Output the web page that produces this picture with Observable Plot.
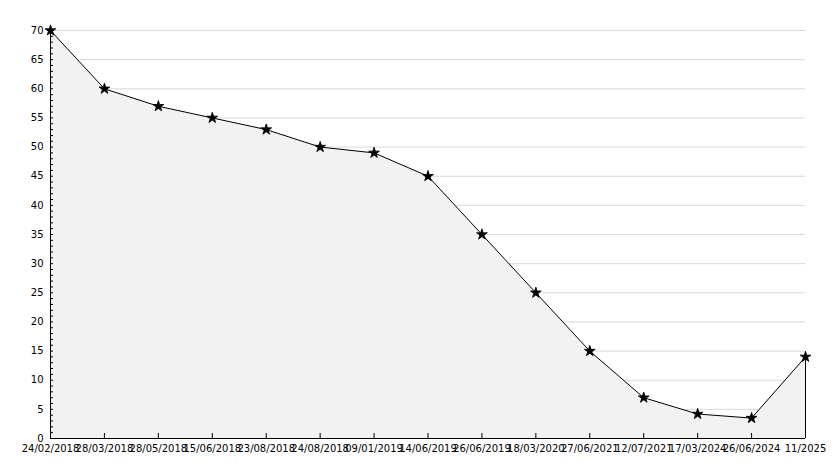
<!DOCTYPE html>
<html>
<head>
<meta charset="utf-8">
<script src="https://cdn.jsdelivr.net/npm/d3@7"></script>
<script src="https://cdn.jsdelivr.net/npm/@observablehq/plot@0.6"></script>
<style>
  html, body { margin: 0; padding: 0; background: #fff; }
  svg { display: block; }
</style>
</head>
<body>
<div id="chart"></div>
<script>
const dates = ["24/02/2018","28/03/2018","28/05/2018","15/06/2018","23/08/2018","24/08/2018","09/01/2019","14/06/2019","26/06/2019","18/03/2020","27/06/2021","12/07/2021","17/03/2024","26/06/2024","11/2025"];
const values = [70, 60, 57, 55, 53, 50, 49, 45, 35, 25, 15, 7, 4.2, 3.5, 14];
const majorTicks = d3.range(0, 71, 5);
const minorTicks = d3.range(0, 71, 1);

const data = dates.map((d, i) => ({date: d, value: values[i]}));

const chart = Plot.plot({
  width: 834,
  height: 468,
  marginLeft: 50,
  marginRight: 29,
  marginTop: 30,
  marginBottom: 30,
  style: {fontFamily: "DejaVu Sans", fontSize: "10px", color: "#000", background: "#fff"},
  x: {type: "point", domain: dates, padding: 0, round: false, range: [50, 805], label: null},
  y: {domain: [0, 70], range: [438, 30], label: null},
  marks: [
    Plot.gridY(majorTicks, {stroke: "#d8d8d8", strokeOpacity: 1}),
    Plot.areaY(data, {x: "date", y: "value", fill: "#f2f2f2"}),
    Plot.lineY(data, {x: "date", y: "value", stroke: "#000", strokeWidth: 1}),
    Plot.ruleX([dates[dates.length - 1]], {y1: 0, y2: values[values.length - 1], stroke: "#000"}),
    Plot.axisY(minorTicks, {anchor: "left", tickSize: 3, dx: 3, text: null, stroke: "#000", label: null}),
    Plot.axisY(majorTicks, {anchor: "left", tickSize: 0, tickPadding: 7, label: null, fill: "#000"}),
    Plot.axisX(dates, {anchor: "bottom", tickSize: 5, dy: -5, text: null, stroke: "#000", label: null}),
    Plot.axisX(dates, {anchor: "bottom", tickSize: 0, tickPadding: 6, label: null, fill: "#000"}),
    Plot.ruleY([0], {stroke: "#000"}),
    Plot.ruleX([dates[0]], {stroke: "#000"}),
    Plot.dot(data, {x: "date", y: "value", symbol: "star", r: 3.4, fill: "#000", stroke: "#000", strokeWidth: 0.8})
  ]
});
document.getElementById("chart").appendChild(chart);
</script>
</body>
</html>
